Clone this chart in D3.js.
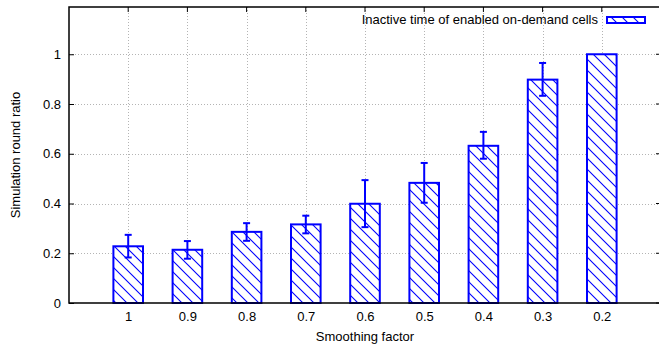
<!DOCTYPE html>
<html>
<head>
<meta charset="utf-8">
<script src="https://cdn.jsdelivr.net/npm/d3@7"></script>
<style>
  body { margin: 0; background: #fff; }
  text { font-family: "Liberation Sans", Arial, sans-serif; fill: #000; }
</style>
</head>
<body>
<div id="chart"></div>
<script>
// smoothing factor categories and measured ratios
const categories = ['1', '0.9', '0.8', '0.7', '0.6', '0.5', '0.4', '0.3', '0.2'];
const ratio = [0.228, 0.214, 0.286, 0.316, 0.399, 0.483, 0.632, 0.898, 1.0];
const errLow = [0.183, 0.178, 0.250, 0.280, 0.305, 0.403, 0.580, 0.833, 1.0];
const errHigh = [0.274, 0.249, 0.321, 0.351, 0.494, 0.563, 0.688, 0.965, 1.0];
const yTicks = [0, 0.2, 0.4, 0.6, 0.8, 1];
const yTickLabels = ['0', '0.2', '0.4', '0.6', '0.8', '1'];
const seriesName = 'Inactive time of enabled on-demand cells';

const W = 659, H = 347;
const plotL = 69, plotR = 661, plotT = 7, plotB = 303;
const blue = '#0000ff';
const fs = 13;

const svg = d3.select('#chart').append('svg')
  .attr('width', W)
  .attr('height', H);

// hatch pattern (gnuplot style "\\\\")
const defs = svg.append('defs');
const pat = defs.append('pattern')
  .attr('id', 'hatch')
  .attr('patternUnits', 'userSpaceOnUse')
  .attr('width', 11).attr('height', 11);
pat.append('rect').attr('width', 11).attr('height', 11).attr('fill', '#fff');
pat.append('path')
  .attr('d', 'M-1,-1 L12,12 M-1,10 L1,12 M10,-1 L12,1')
  .attr('stroke', blue).attr('stroke-width', 1.1);

const x = d3.scaleLinear().domain([0, 10]).range([plotL, plotR]);
const y = d3.scaleLinear().domain([0, 1.19]).range([plotB, plotT]);
const barW = x(0.5) - x(0);

// grid
const grid = svg.append('g')
  .attr('stroke', '#b4b4b4')
  .attr('stroke-width', 1)
  .attr('stroke-dasharray', '1,2');
grid.selectAll('line.gy').data(yTicks.slice(1)).join('line')
  .attr('x1', plotL).attr('x2', plotR)
  .attr('y1', d => Math.round(y(d)) + 0.5).attr('y2', d => Math.round(y(d)) + 0.5);
grid.selectAll('line.gx').data(categories).join('line')
  .attr('x1', (d, i) => Math.round(x(i + 1)) + 0.5).attr('x2', (d, i) => Math.round(x(i + 1)) + 0.5)
  .attr('y1', plotT).attr('y2', plotB);

// left axis
const yAxis = d3.axisLeft(y)
  .tickValues(yTicks)
  .tickFormat((d, i) => yTickLabels[i])
  .tickSize(-5)
  .tickPadding(8);
const gy = svg.append('g')
  .attr('transform', `translate(${plotL},0)`)
  .call(yAxis);
gy.select('.domain').remove();
gy.selectAll('.tick line').attr('stroke', '#000');
gy.selectAll('.tick text').attr('font-size', fs);

// right mirror ticks
svg.append('g').selectAll('line').data(yTicks).join('line')
  .attr('x1', plotR - 5).attr('x2', plotR)
  .attr('y1', d => y(d)).attr('y2', d => y(d))
  .attr('stroke', '#000');

// top mirror ticks
svg.append('g').selectAll('line').data(categories).join('line')
  .attr('x1', (d, i) => x(i + 1)).attr('x2', (d, i) => x(i + 1))
  .attr('y1', plotT).attr('y2', plotT + 5)
  .attr('stroke', '#000');

// bottom axis labels
const xAxis = d3.axisBottom(x)
  .tickValues(d3.range(1, 10))
  .tickFormat(d => categories[d - 1])
  .tickSize(-5)
  .tickPadding(9);
const gx = svg.append('g')
  .attr('transform', `translate(0,${plotB})`)
  .call(xAxis);
gx.select('.domain').remove();
gx.selectAll('.tick line').attr('stroke', '#000');
gx.selectAll('.tick text').attr('font-size', fs);

// bars
svg.append('g').selectAll('rect').data(ratio).join('rect')
  .attr('x', (d, i) => x(i + 1) - barW / 2)
  .attr('y', d => y(d))
  .attr('width', barW)
  .attr('height', d => plotB - y(d))
  .attr('fill', 'url(#hatch)')
  .attr('stroke', blue)
  .attr('stroke-width', 2);

// error bars
const eb = svg.append('g').attr('stroke', blue).attr('stroke-width', 2);
ratio.forEach((d, i) => {
  if (errHigh[i] - errLow[i] < 0.001) return;
  const cx = x(i + 1);
  eb.append('line').attr('x1', cx).attr('x2', cx).attr('y1', y(errLow[i])).attr('y2', y(errHigh[i]));
  eb.append('line').attr('x1', cx - 3.5).attr('x2', cx + 3.5).attr('y1', y(errLow[i])).attr('y2', y(errLow[i]));
  eb.append('line').attr('x1', cx - 3.5).attr('x2', cx + 3.5).attr('y1', y(errHigh[i])).attr('y2', y(errHigh[i]));
});

// border
svg.append('path')
  .attr('d', `M${plotL},${plotT} L${plotR},${plotT} L${plotR},${plotB} L${plotL},${plotB} Z`)
  .attr('fill', 'none')
  .attr('stroke', '#000')
  .attr('stroke-width', 1.5);

// legend
svg.append('text')
  .attr('x', 598).attr('y', 24)
  .attr('text-anchor', 'end')
  .attr('font-size', fs)
  .text(seriesName);
svg.append('rect')
  .attr('x', 607).attr('y', 17)
  .attr('width', 38).attr('height', 6)
  .attr('fill', 'url(#hatch)')
  .attr('stroke', blue)
  .attr('stroke-width', 2);

// axis titles
svg.append('text')
  .attr('transform', `translate(20,${(plotT + plotB) / 2}) rotate(-90)`)
  .attr('text-anchor', 'middle')
  .attr('font-size', fs)
  .text('Simulation round ratio');
svg.append('text')
  .attr('x', (plotL + plotR) / 2).attr('y', 341)
  .attr('text-anchor', 'middle')
  .attr('font-size', fs)
  .text('Smoothing factor');
</script>
</body>
</html>
